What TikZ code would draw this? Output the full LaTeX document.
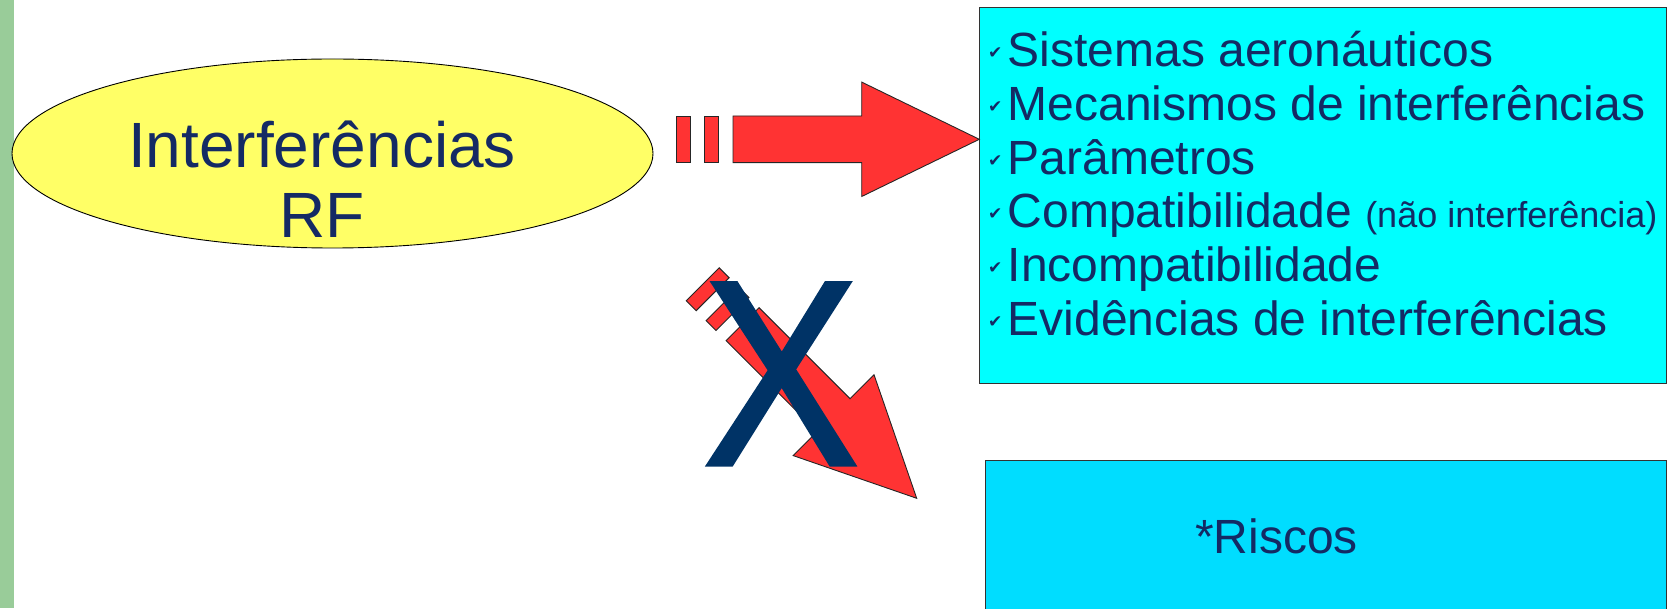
\documentclass[tikz,border=0pt]{standalone}
\usepackage{fontspec}
\setmainfont{Liberation Sans}
\newfontfamily\dejavu{DejaVu Sans}
\newfontfamily\xfont[FakeBold=1.2]{Liberation Sans}
\usetikzlibrary{shapes.geometric}
\definecolor{barGreen}{RGB}{153,204,153}
\definecolor{ellYellow}{RGB}{255,255,102}
\definecolor{arrRed}{RGB}{255,51,51}
\definecolor{boxCyan}{RGB}{0,255,255}
\definecolor{boxBlue}{RGB}{0,221,255}
\definecolor{txtNavy}{RGB}{20,42,100}
\definecolor{xNavy}{RGB}{0,51,102}
\newcommand{\chk}{\makebox[23.5pt][l]{\hspace{4pt}\raisebox{8pt}{\dejavu\fontsize{17}{17}\selectfont ✔}}}
\begin{document}
\begin{tikzpicture}[x=1pt,y=1pt,
  arrowpart/.style={fill=arrRed, draw=black!85, line width=0.9pt, line join=miter},
  boxtext/.style={font=\fontsize{48}{54}\selectfont, text=txtNavy, inner sep=0pt, anchor=base west},
  elltext/.style={font=\fontsize{64}{70}\selectfont, text=txtNavy, inner sep=0pt, anchor=base},
  blockarrow/.pic={
    \path[arrowpart] (-302.6,-23.3) rectangle (-288.6,23.3);
    \path[arrowpart] (-274.6,-23.3) rectangle (-260.6,23.3);
    \path[arrowpart] (-246.3,-23.3) -- (-117.6,-23.3) -- (-117.6,-57.2) -- (0,0)
      -- (-117.6,57.2) -- (-117.6,23.3) -- (-246.3,23.3) -- cycle;
  }]
\useasboundingbox (0,0) rectangle (1677,608);
\fill[barGreen] (0,0) rectangle (14,608);

% ellipse
\node[ellipse, draw=black, line width=0.9pt, fill=ellYellow, minimum width=641, minimum height=189, inner sep=0pt] (ell) at (332.5,454.5) {};
\node[elltext] (t1) at (322,440) {Interferências};
\node[elltext] (t2) at (322,370.5) {RF};

% boxes
\node[draw=black!80, line width=0.9pt, fill=boxCyan, anchor=north west, minimum width=687.7, minimum height=375.5, inner sep=0pt] (box1) at (978.6,600.5) {};
\node[draw=black!80, line width=0.9pt, fill=boxBlue, anchor=north west, minimum width=681, minimum height=152, inner sep=0pt] (box2) at (985,148) {};

% arrows
\pic (harrow) at (979.3,468.7) {blockarrow};
\pic[rotate=-45] (darrow) at (916.7,109.7) {blockarrow};

% X
\node[text=xNavy, inner sep=0pt, anchor=base, font=\xfont\fontsize{265}{265}\selectfont] (xmark) at (781,143) {\scalebox{0.89}[1]{X}};

% box text
\node[boxtext] (l1) at (984,541.7) {\chk Sistemas aeronáuticos};
\node[boxtext] (l2) at (984,487.8) {\chk Mecanismos de interferências};
\node[boxtext] (l3) at (984,433.9) {\chk Parâmetros};
\node[boxtext] (l4) at (984,380.0) {\chk Compatibilidade {\fontsize{36}{40}\selectfont (não interferência)}};
\node[boxtext] (l5) at (984,326.1) {\chk Incompatibilidade};
\node[boxtext] (l6) at (984,272.2) {\chk Evidências de interferências};

\node[boxtext] (risc) at (1195,55) {*Riscos};
\end{tikzpicture}
\end{document}
